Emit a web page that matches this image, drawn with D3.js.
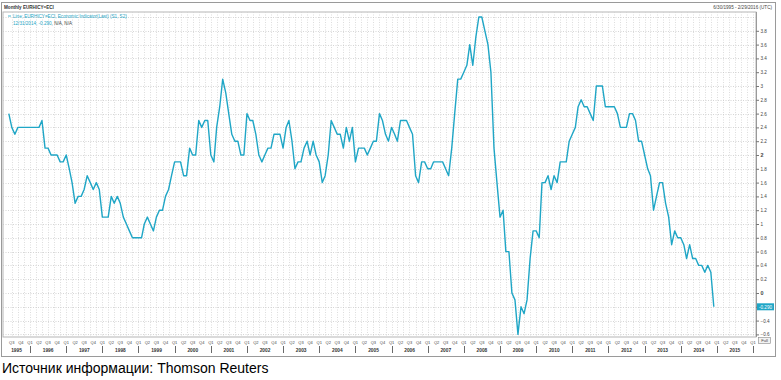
<!DOCTYPE html>
<html>
<head>
<meta charset="utf-8">
<script src="https://cdn.jsdelivr.net/npm/d3@7/dist/d3.min.js"></script>
<style>
  body { margin: 0; background: #fff; font-family: "Liberation Sans", Arial, sans-serif; }
  svg { display: block; }
</style>
</head>
<body>
<svg width="781" height="380"></svg>
<script>
// Monthly values (YoY, %), June 1995 .. December 2014
var v1995 = [2.6, 2.4, 2.3, 2.4, 2.4, 2.4, 2.4];
var v1996 = [2.4, 2.4, 2.4, 2.4, 2.5, 2.1, 2.1, 2.0, 2.0, 2.0, 1.9, 1.9];
var v1997 = [2.0, 1.8, 1.6, 1.3, 1.4, 1.4, 1.5, 1.7, 1.6, 1.5, 1.6, 1.5];
var v1998 = [1.1, 1.1, 1.1, 1.4, 1.3, 1.4, 1.3, 1.1, 1.0, 0.9, 0.8, 0.8];
var v1999 = [0.8, 0.8, 1.0, 1.1, 1.0, 0.9, 1.1, 1.2, 1.2, 1.4, 1.5, 1.7];
var v2000 = [1.9, 1.9, 1.9, 1.7, 1.7, 2.1, 2.0, 2.0, 2.5, 2.4, 2.5, 2.5];
var v2001 = [2.0, 1.9, 2.4, 2.7, 3.1, 2.9, 2.6, 2.3, 2.2, 2.2, 2.0, 2.0];
var v2002 = [2.6, 2.5, 2.5, 2.3, 2.0, 1.9, 2.0, 2.1, 2.1, 2.3, 2.3, 2.3];
var v2003 = [2.1, 2.4, 2.5, 2.2, 1.8, 1.9, 1.9, 2.1, 2.2, 2.0, 2.2, 2.0];
var v2004 = [1.9, 1.6, 1.7, 2.0, 2.5, 2.4, 2.3, 2.3, 2.1, 2.4, 2.2, 2.4];
var v2005 = [1.9, 2.1, 2.1, 2.1, 2.0, 2.1, 2.2, 2.2, 2.6, 2.5, 2.3, 2.2];
var v2006 = [2.4, 2.3, 2.2, 2.5, 2.5, 2.5, 2.4, 2.3, 1.7, 1.6, 1.9, 1.9];
var v2007 = [1.8, 1.8, 1.9, 1.9, 1.9, 1.9, 1.8, 1.7, 2.1, 2.6, 3.1, 3.1];
var v2008 = [3.2, 3.3, 3.6, 3.3, 3.7, 4.0, 4.0, 3.8, 3.6, 3.2, 2.1, 1.6];
var v2009 = [1.1, 1.2, 0.6, 0.6, 0.0, -0.1, -0.6, -0.2, -0.3, -0.1, 0.5, 0.9];
var v2010 = [0.9, 0.8, 1.6, 1.6, 1.7, 1.5, 1.7, 1.6, 1.9, 1.9, 1.9, 2.2];
var v2011 = [2.3, 2.4, 2.7, 2.8, 2.7, 2.7, 2.6, 2.5, 3.0, 3.0, 3.0, 2.7];
var v2012 = [2.7, 2.7, 2.7, 2.6, 2.4, 2.4, 2.4, 2.6, 2.6, 2.5, 2.2, 2.2];
var v2013 = [2.0, 1.8, 1.7, 1.2, 1.4, 1.6, 1.6, 1.3, 1.1, 0.7, 0.9, 0.8];
var v2014 = [0.8, 0.7, 0.5, 0.7, 0.5, 0.5, 0.4, 0.4, 0.3, 0.4, 0.3, -0.2];

var values = [].concat(v1995, v1996, v1997, v1998, v1999, v2000, v2001, v2002, v2003, v2004,
  v2005, v2006, v2007, v2008, v2009, v2010, v2011, v2012, v2013, v2014);

// Tick labels and texts
var yTicks = [-0.6, -0.4, -0.2, 0, 0.2, 0.4, 0.6, 0.8, 1, 1.2, 1.4, 1.6, 1.8, 2, 2.2, 2.4, 2.6, 2.8, 3, 3.2, 3.4, 3.6, 3.8];
var boldTicks = [0, 2];
var quarterNames = ['Q1', 'Q2', 'Q3', 'Q4'];
var years = d3.range(1995, 2016);
var lastLabel = '-0.290';
var titleText = 'Monthly EURHICY=ECI';
var rangeText = '6/30/1995 - 2/29/2016 (UTC)';
var legendText = 'Line; EURHICY=ECI, Economic Indicator(Last) (S1, S2)';
var legendDate = '12/31/2014, -0.290';
var legendRest = ', N/A, N/A';
var sourceText = 'Источник информации: Thomson Reuters';

var lineColor = '#1fa6c6';
var plot = {left: 3, right: 756, top: 12, bottom: 337};

// Dates of the points (first of each month)
var dates = d3.timeMonth.range(new Date(1995, 5, 1), new Date(2015, 0, 1));
var data = dates.map((d, i) => ({date: d, value: values[i]}));
var last = data[data.length - 1];

// Scales
var x = d3.scaleTime().domain([new Date(1996, 0, 1), new Date(2016, 0, 1)]).range([30, 753]);
var y = d3.scaleLinear().domain([0, 2]).range([293, 155]);
var line = d3.line().x(d => x(d.date)).y(d => y(d.value));

var svg = d3.select('svg');

// Outer frame
svg.append('rect')
  .attr('x', 1.5).attr('y', 2.5).attr('width', 774).attr('height', 354)
  .attr('fill', '#fff').attr('stroke', '#9a9a9a');

// Plot box
svg.append('rect')
  .attr('x', plot.left).attr('y', plot.top)
  .attr('width', plot.right - plot.left).attr('height', plot.bottom - plot.top)
  .attr('fill', '#fff').attr('stroke', '#b5b5b5');

// Header
svg.append('text').text(titleText)
  .attr('x', 4).attr('y', 9).attr('font-size', 4.6).attr('font-weight', 'bold').attr('fill', '#333');
svg.append('text').text(rangeText)
  .attr('x', 772).attr('y', 9).attr('font-size', 4.6).attr('text-anchor', 'end').attr('fill', '#444');

// Grid (dotted)
var grid = svg.append('g').attr('stroke', '#cfcfcf').attr('stroke-dasharray', '1,1.5').attr('stroke-width', 0.7);
grid.selectAll()
  .data(d3.timeMonth.every(2).range(new Date(1995, 6, 1), new Date(2016, 2, 1)).filter(d => x(d) > plot.left + 1 && x(d) < plot.right))
  .enter().append('line')
  .attr('x1', d => Math.round(x(d)) + 0.5).attr('x2', d => Math.round(x(d)) + 0.5)
  .attr('y1', plot.top).attr('y2', plot.bottom);
grid.selectAll()
  .data(yTicks.concat([4]))
  .enter().append('line')
  .attr('stroke', '#c4c4c4')
  .attr('x1', plot.left).attr('x2', plot.right)
  .attr('y1', d => Math.round(y(d)) + 0.5).attr('y2', d => Math.round(y(d)) + 0.5);

// Y axis on the right; the label under the last-value box is not shown
var hidden = d => Math.abs(y(d) - y(last.value)) < 5;
var yAxis = d3.axisRight(y).tickValues(yTicks).tickSize(3).tickPadding(1.5)
  .tickFormat(d => hidden(d) ? '' : d3.format('.1~f')(d));
var yg = svg.append('g').attr('transform', 'translate(' + plot.right + ',0)').call(yAxis);
yg.select('.domain').attr('stroke', '#9a9a9a').attr('d', 'M0.5,' + plot.top + 'V' + plot.bottom);
yg.selectAll('.tick line').attr('stroke', '#777');
yg.selectAll('.tick text')
  .attr('fill', '#444').attr('font-family', '"Liberation Sans", Arial, sans-serif')
  .attr('font-weight', d => boldTicks.includes(d) ? 'bold' : 'normal')
  .attr('font-size', d => boldTicks.includes(d) ? 5.4 : 4.6);

// The line
svg.append('path')
  .datum(data)
  .attr('fill', 'none')
  .attr('stroke', lineColor)
  .attr('stroke-width', 1.4)
  .attr('stroke-linejoin', 'round')
  .attr('d', line);

// Last value label on the axis
svg.append('rect')
  .attr('x', plot.right + 1).attr('y', y(last.value) - 3.5).attr('width', 17).attr('height', 7)
  .attr('fill', lineColor);
svg.append('text').text(lastLabel)
  .attr('x', plot.right + 9.5).attr('y', y(last.value) + 1.7)
  .attr('font-size', 4.6).attr('text-anchor', 'middle').attr('fill', '#fff');

// Small "Full" box under the axis
svg.append('rect')
  .attr('x', plot.right + 2.5).attr('y', 337.5).attr('width', 12).attr('height', 6)
  .attr('fill', '#f2f2f2').attr('stroke', '#888').attr('stroke-width', 0.6);
svg.append('text').text('Full')
  .attr('x', plot.right + 8.5).attr('y', 342).attr('font-size', 4.2).attr('text-anchor', 'middle').attr('fill', '#444');

// Legend
svg.append('line')
  .attr('x1', 8).attr('x2', 11).attr('y1', 16).attr('y2', 16)
  .attr('stroke', lineColor).attr('stroke-width', 0.8);
svg.append('text').text(legendText)
  .attr('x', 13).attr('y', 17.5).attr('font-size', 4.6).attr('fill', lineColor);
var leg2 = svg.append('text').attr('x', 13).attr('y', 24.5).attr('font-size', 4.6);
leg2.append('tspan').text(legendDate).attr('fill', lineColor);
leg2.append('tspan').text(legendRest).attr('fill', '#444');

// X axis: quarters
var quarters = d3.timeMonth.every(3).range(new Date(1995, 6, 1), new Date(2016, 1, 1));
svg.append('g').selectAll()
  .data(quarters).enter()
  .append('text')
  .text(d => quarterNames[Math.floor(d.getMonth() / 3)])
  .attr('x', d => Math.max(x(d), plot.left + 5))
  .attr('y', 343.5)
  .attr('font-size', 4)
  .attr('text-anchor', 'middle')
  .attr('fill', '#444');

// X axis: years and separators
svg.append('g').selectAll()
  .data(years).enter()
  .append('text')
  .text(d => d)
  .attr('x', d => (Math.max(x(new Date(d, 0, 1)), plot.left) + x(new Date(d + 1, 0, 1))) / 2)
  .attr('y', 351.5)
  .attr('font-size', 4.8)
  .attr('font-weight', 'bold')
  .attr('text-anchor', 'middle')
  .attr('fill', '#333');
svg.append('g').selectAll()
  .data(d3.range(1996, 2017)).enter()
  .append('line')
  .attr('x1', d => Math.round(x(new Date(d, 0, 1))) + 0.5)
  .attr('x2', d => Math.round(x(new Date(d, 0, 1))) + 0.5)
  .attr('y1', 346).attr('y2', 353)
  .attr('stroke', '#444').attr('stroke-width', 0.8);

// Source
svg.append('text').text(sourceText)
  .attr('x', 2).attr('y', 373)
  .attr('font-size', 14)
  .attr('fill', '#000');
</script>
</body>
</html>
